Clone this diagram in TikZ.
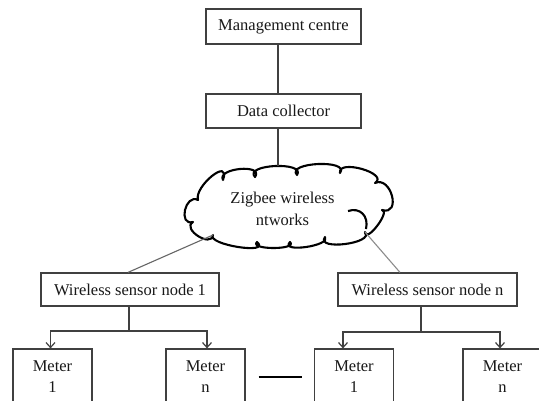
\documentclass[tikz,border=0pt]{standalone}
\usepackage{fontspec}
\setmainfont{Liberation Serif}
\usetikzlibrary{arrows.meta}
\begin{document}
\begin{tikzpicture}[x=1pt,y=1pt,
  box/.style={draw=black!75, line width=1.2pt, inner sep=0pt, text=black!90,
    font=\fontsize{16.5}{21}\selectfont, align=center},
  meter/.style={box, minimum width=79, minimum height=56},
  link/.style={draw=black!75, line width=1.2pt},
  arr/.style={link, -{Straight Barb[length=5pt,width=9pt]}},
  cloudline/.style={draw=black, line width=2.1pt, line join=round},
]
\useasboundingbox (0,0) rectangle (539,-400);
\clip (0,0) rectangle (539,-400);
\fill[white] (0,0) rectangle (539,-400);

% top boxes
\node[box, minimum width=155, minimum height=35] (mc) at (283.5,-26.5) {Management centre};
\node[box, minimum width=155, minimum height=34] (dc) at (283.5,-111) {Data collector};

% cloud
\draw[cloudline] (198,-200)
 .. controls +(-4.25,13.7) and +(8.25,23.7) .. (223,-180)
 .. controls +(-6.7,11.95) and +(9.3,13.45) .. (255,-177)
 .. controls +(-11.8,12.8) and +(9.2,13.8) .. (297,-175)
 .. controls +(-11.45,12.8) and +(10.05,13.8) .. (340,-173)
 .. controls +(-2.75,14.5) and +(14.75,9.5) .. (375,-183)
 .. controls +(16.25,7.45) and +(19.75,-6.05) .. (382,-210)
 .. controls +(8.95,-1.2) and +(0.45,-12.2) .. (365,-232)
 .. controls +(10,-11.45) and +(-10,-13.95) .. (325,-237)
 .. controls +(6.75,-8.75) and +(-10.75,-11.25) .. (290,-242)
 .. controls +(8.25,-8) and +(-8.25,-8) .. (257,-242)
 .. controls +(15,-13.05) and +(-7,-9.55) .. (213,-235)
 .. controls +(-1.7,-13.25) and +(-11.7,-6.75) .. (193,-222)
 .. controls +(-15.25,-4.2) and +(-12.75,6.8) .. cycle;
\draw[cloudline] (348,-211) .. controls (360,-207) and (369,-216) .. (366,-229);
\node[font=\fontsize{16.5}{22}\selectfont, text=black!90, align=center] (cloudtext) at (282.5,-209) {Zigbee wireless\\ntworks};
\coordinate (cloudtop) at (278,-166);
\coordinate (cloudL) at (213,-235);
\coordinate (cloudR) at (365,-232);

% sensor nodes
\node[box, minimum width=178, minimum height=33] (n1) at (130,-289.5) {Wireless sensor node 1};
\node[box, minimum width=179, minimum height=33] (nn) at (427.5,-289.5) {Wireless sensor node n};

% meters
\node[meter] (m1) at (52.5,-377) {Meter\\1};
\node[meter] (m2) at (205.5,-377) {Meter\\n};
\node[meter] (m3) at (354,-377) {Meter\\1};
\node[meter] (m4) at (502.5,-377) {Meter\\n};

% connectors
\draw[link] ([xshift=-5.5pt]mc.south) -- ([xshift=-5.5pt]dc.north);
\draw[link] ([xshift=-5.5pt]dc.south) -- (cloudtop);
\draw[draw=black!60, line width=1.1pt] (cloudL) -- ([xshift=-2pt]n1.north);
\draw[draw=black!45, line width=1.1pt] (cloudR) -- ([xshift=-27.5pt]nn.north);

\coordinate (j1) at (129,-331);
\draw[link] ([xshift=-1pt]n1.south) -- (j1);
\draw[arr] (j1) -| ([xshift=-2pt]m1.north);
\draw[arr] (j1) -| ([xshift=1.5pt]m2.north);

\coordinate (j2) at (421,-332);
\draw[link] ([xshift=-6.5pt]nn.south) -- (j2);
\draw[arr] (j2) -| ([xshift=-11pt]m3.north);
\draw[arr] (j2) -| ([xshift=-2.5pt]m4.north);

\draw[draw=black, line width=1.2pt] ([xshift=13pt]m2.east) -- ([xshift=-12pt]m3.west);
\end{tikzpicture}
\end{document}
